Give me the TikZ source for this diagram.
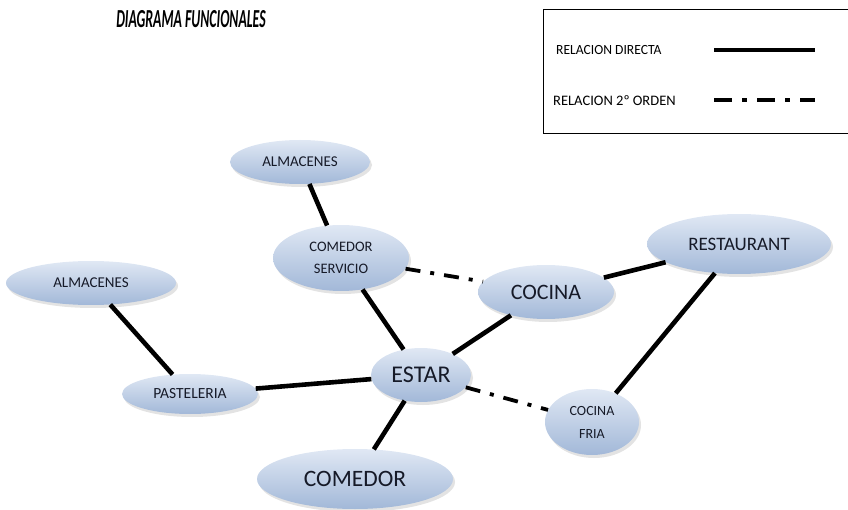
\documentclass[tikz,border=0pt]{standalone}
\usepackage{fontspec}
\setmainfont{Carlito}
\usetikzlibrary{shapes.geometric,shadows}
\definecolor{elltop}{RGB}{224,232,244}
\definecolor{ellbot}{RGB}{162,184,216}
\definecolor{txt}{RGB}{22,26,40}
\tikzset{
  room/.style={ellipse, inner sep=0pt, top color=elltop, bottom color=ellbot, draw=none,
    text=txt, align=center, drop shadow={opacity=0.22, shadow xshift=2pt, shadow yshift=-3pt}},
  direct/.style={line width=4.6pt},
  second/.style={line width=3.8pt, dash pattern=on 15pt off 10pt on 4pt off 10pt},
  lbl/.style={font=\fontsize{#1}{#1}\selectfont},
}
\begin{document}
\begin{tikzpicture}[x=1pt,y=-1pt]
\useasboundingbox (0,0) rectangle (848,510);
\clip (0,0) rectangle (848,510);
% title
\node[font=\bfseries\itshape\fontsize{26}{28}\selectfont, anchor=center, inner sep=0pt] (title) at (191,19) {\scalebox{0.53}[1]{DIAGRAMA FUNCIONALES}};
% legend
\draw[line width=0.8pt] (543,9) rectangle (870,133);
\node[lbl=14, anchor=west, inner sep=0pt] (l1) at (556,50) {\scalebox{0.97}[1]{RELACION DIRECTA}};
\node[lbl=14.5, anchor=west, inner sep=0pt] (l2) at (553,101) {RELACION 2º ORDEN};
\coordinate (l1a) at (714,50); \coordinate (l1b) at (815,50);
\coordinate (l2a) at (714,100); \coordinate (l2b) at (815,100);
\draw[line width=4.6pt] (l1a) -- (l1b);
\draw[line width=4pt, dash pattern=on 18pt off 10pt on 5pt off 10pt] (l2a) -- (l2b);
% rooms
\node[room, minimum width=140pt, minimum height=44pt, lbl=15] (alm1) at (300,162) {ALMACENES};
\node[room, minimum width=136pt, minimum height=66pt, font=\fontsize{14.5}{22}\selectfont] (cserv) at (341,258) {COMEDOR\\SERVICIO};
\node[room, minimum width=170pt, minimum height=44pt, lbl=15] (alm2) at (91,283) {ALMACENES};
\node[room, minimum width=136pt, minimum height=54pt, lbl=22] (cocina) at (546,292) {COCINA};
\node[room, minimum width=184pt, minimum height=60pt, lbl=19] (rest) at (739,244) {RESTAURANT};
\node[room, minimum width=100pt, minimum height=54pt, lbl=24] (estar) at (421,375) {ESTAR};
\node[room, minimum width=136pt, minimum height=40pt, lbl=15.5] (past) at (190,394) {PASTELERIA};
\node[room, minimum width=94pt, minimum height=66pt, font=\fontsize{14}{23}\selectfont] (cfria) at (592,422) {COCINA\\FRIA};
\node[room, minimum width=196pt, minimum height=60pt, lbl=23.5] (comedor) at (355,479) {COMEDOR};
% connectors
\draw[direct] (alm1) -- (cserv);
\draw[second] (cserv) -- (cocina);
\draw[direct] (cserv) -- (estar);
\draw[direct] (cocina) -- (estar);
\draw[direct] (cocina) -- (rest);
\draw[direct] (rest) -- (cfria);
\draw[direct] (alm2) -- (past);
\draw[direct] (past) -- (estar);
\draw[second] (estar) -- (cfria);
\draw[direct] (estar) -- (comedor);
\end{tikzpicture}
\end{document}
